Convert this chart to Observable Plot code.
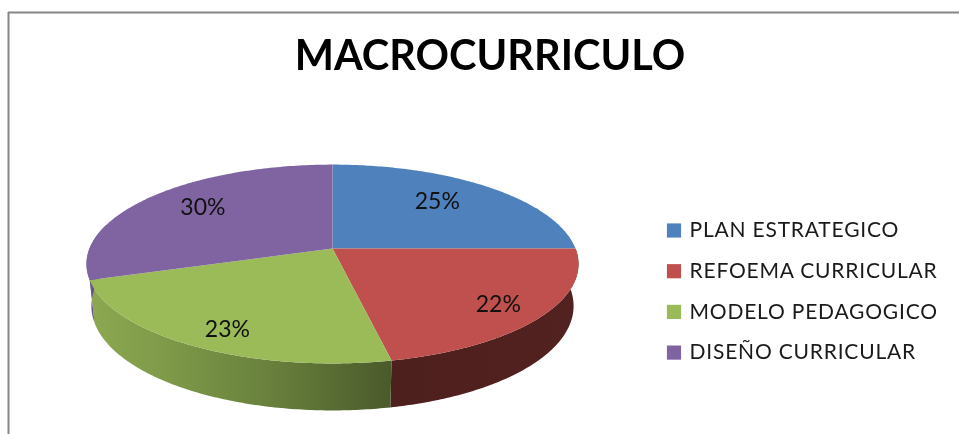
<!DOCTYPE html>
<html>
<head>
<meta charset="utf-8">
<script src="https://cdn.jsdelivr.net/npm/d3@7"></script>
<script src="https://cdn.jsdelivr.net/npm/@observablehq/plot@0.6"></script>
<style>
html,body{margin:0;padding:0;background:#fff;}
svg{display:block;filter:blur(0.4px);}
</style>
</head>
<body>
<div id="chart"></div>
<script>
const chartTitle = "MACROCURRICULO";
const categories = ["PLAN ESTRATEGICO", "REFOEMA CURRICULAR", "MODELO PEDAGOGICO", "DISEÑO CURRICULAR"];
const values = [25, 21.7, 23.3, 30];
const topColors = ["#4f81bd", "#c0504d", "#9bbb59", "#8064a2"];
const labelRadius = [0.70, 0.82, 0.83, 0.73];
const labelShift = [-3.2, 1.2, -2.6, 2.5];

// Perspective view of the disc
const view = {cx: 332, cy: 248, rx: 243, ry: 97, tilt: 0.156, depth: 41, depthTilt: 6, shrink: 0.98};
const FONT = "Lato, 'Open Sans', sans-serif";

function project(theta, r = 1) {
  const u = Math.sin(theta) * r, v = Math.cos(theta) * r, w = 1 + view.tilt * v;
  return {x: view.cx + view.rx * u / w, y: view.cy - view.ry * v / w, v};
}
function rim(theta) {
  const p = project(theta);
  return {x: view.cx + (p.x - view.cx) * view.shrink, y: p.y + view.depth - view.depthTilt * p.v};
}
const total = d3.sum(values);
const cum = d3.cumsum(values);
const angle = (pct) => (pct / total) * 2 * Math.PI;
const slices = categories.map((cat, i) => ({
  cat, value: values[i], start: angle(cum[i] - values[i]), end: angle(cum[i])
}));
const steps = (a, b) => d3.range(0, 121).map(k => a + (b - a) * k / 120);

const topPts = slices.flatMap(s => [
  {cat: s.cat, ...project(0, 0)},
  ...steps(s.start, s.end).map(t => ({cat: s.cat, ...project(t)}))
]);
// the front wall: only the part of each slice facing the viewer
const front = [Math.PI * 0.42, Math.PI * 1.58];
const wallPts = slices.flatMap(s => {
  const a = Math.max(s.start, front[0]), b = Math.min(s.end, front[1]);
  if (b <= a) return [];
  const ts = steps(a, b);
  return [...ts.map(t => ({cat: s.cat, ...project(t)})), ...ts.slice().reverse().map(t => ({cat: s.cat, ...rim(t)}))];
});
const wallFill = {
  [categories[1]]: "url(#wallRed)",
  [categories[2]]: "url(#wallGreen)",
  [categories[3]]: "url(#wallPurple)"
};
const labels = slices.map((s, i) => ({
  text: Math.round(s.value) + "%",
  ...project((s.start + s.end) / 2 + labelShift[i] * Math.PI / 180, labelRadius[i])
}));
const legendRows = categories.map((cat, i) => ({cat, row: i}));
const legendY = (d) => 230 + d.row * 40.7;

function gradient(id, stops) {
  const g = d3.create("svg:linearGradient").attr("id", id).attr("x1", 0).attr("x2", 1).attr("y1", 0).attr("y2", 0);
  stops.forEach(([o, c]) => g.append("stop").attr("offset", o).attr("stop-color", c));
  return g.node();
}
const defs = () => {
  const d = d3.create("svg:defs");
  d.node().append(
    gradient("wallGreen", [[0, "#8ca850"], [0.25, "#7f9a49"], [0.6, "#68803c"], [1, "#4a5a2b"]]),
    gradient("wallRed", [[0, "#4d1f1d"], [1, "#522220"]]),
    gradient("wallPurple", [[0, "#6d5690"], [1, "#5f4b80"]])
  );
  return d.node();
};
const spaced = (px) => (index, scales, values, dims, context, next) => {
  const g = next(index, scales, values, dims, context);
  g.style.letterSpacing = px;
  return g;
};

const chart = Plot.plot({
  width: 959, height: 434, margin: 0,
  x: {domain: [0, 959], range: [0, 959], axis: null},
  y: {domain: [0, 434], range: [0, 434], axis: null},
  color: {domain: categories, range: topColors},
  style: {background: "#fff", fontFamily: FONT},
  marks: [
    defs,
    Plot.ruleX([8], {y1: 12, y2: 434, stroke: "#868686", strokeWidth: 2}),
    Plot.ruleY([12], {x1: 8, x2: 959, stroke: "#868686", strokeWidth: 2}),
    ...categories.slice(1).map(cat => Plot.line(wallPts.filter(d => d.cat === cat), {
      x: "x", y: "y", fill: wallFill[cat], stroke: "none"
    })),
    Plot.line(topPts, {x: "x", y: "y", z: "cat", fill: "cat", stroke: "none"}),
    Plot.text(labels, {x: "x", y: "y", text: "text", fontSize: 23, fill: "#111", fontFamily: FONT}),
    Plot.text([chartTitle], {x: [489.5], y: [56], text: d => d, fontSize: 41.5, fontWeight: 700, fill: "#000", fontFamily: FONT}),
    Plot.dot(legendRows, {x: () => 673.5, y: legendY, symbol: "square", r: 8, fill: "cat", stroke: "none"}),
    Plot.text(legendRows, {x: () => 689, y: legendY, text: "cat", textAnchor: "start", fontSize: 21, fill: "#1a1a1a", fontFamily: FONT, render: spaced("0.8px")})
  ]
});
document.getElementById("chart").append(chart);
</script>
</body>
</html>
